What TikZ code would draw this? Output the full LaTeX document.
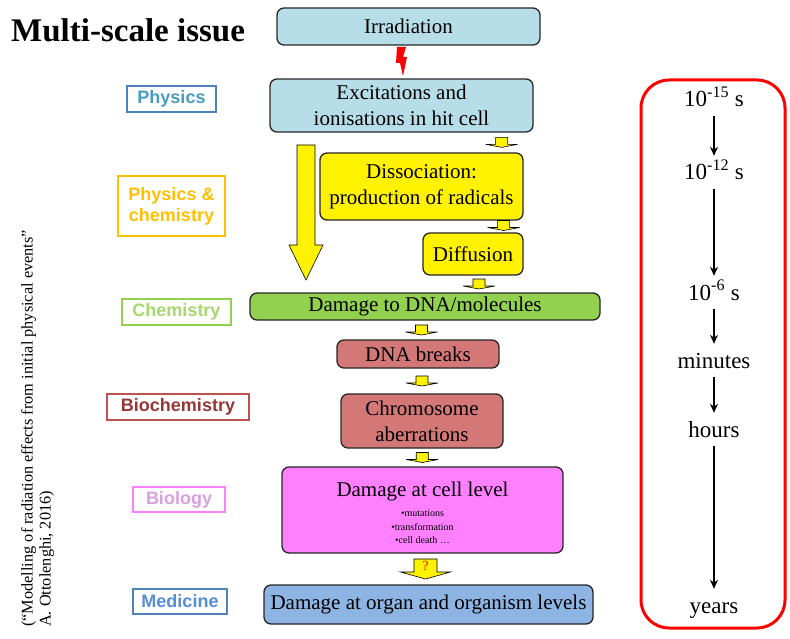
\documentclass[tikz,border=0pt]{standalone}
\usepackage{fontspec}
\setmainfont{Liberation Serif}
\newfontfamily\labelfont{Liberation Sans}
\usetikzlibrary{calc,arrows.meta}
\definecolor{irrblue}{HTML}{B7DEE8}
\definecolor{dnagreen}{HTML}{92D050}
\definecolor{brkred}{HTML}{D47777}
\definecolor{cellpink}{HTML}{FF80FF}
\definecolor{organblue}{HTML}{8EB4E3}
\definecolor{physbord}{HTML}{4F81BD}
\definecolor{phystext}{HTML}{4A9BC0}
\definecolor{pcorange}{HTML}{FFC000}
\definecolor{chemtext}{HTML}{A6D86E}
\definecolor{biochbord}{HTML}{C0504D}
\definecolor{biochtext}{HTML}{953735}
\definecolor{biotext}{HTML}{D8A0E0}
\definecolor{medtext}{HTML}{558ED5}
\begin{document}
\begin{tikzpicture}[x=1pt,y=-1pt,
  box/.style={draw=black!85, line width=1.3pt, rounded corners=7pt, align=center, inner sep=0pt,
    font=\fontsize{21}{26}\selectfont},
  lab/.style={draw, line width=2pt, align=center, inner sep=0pt, font=\labelfont\bfseries\fontsize{18}{21}\selectfont},
  tlab/.style={inner sep=0pt, text height=16pt, text depth=5pt, anchor=base, font=\fontsize{23}{26}\selectfont},
  tarrow/.style={line width=1.3pt, -{Stealth[length=9pt,width=8pt]}, shorten <=4pt, shorten >=8pt},
  smallarrow/.pic={\draw[fill=yellow, draw=black, line width=0.6pt] (-6,-5) -- (6,-5) -- (6,2) -- (16,2) -- (0,5) -- (-16,2) -- (-6,2) -- cycle;}
]
\useasboundingbox (0,0) rectangle (790,639);
% title
\node[anchor=base west, inner sep=0pt, font=\bfseries\fontsize{33}{36}\selectfont] (title) at (11,42) {Multi-scale issue};
% citation
\node[rotate=90, anchor=north west, align=left, inner sep=0pt, font=\fontsize{16.3}{18}\selectfont] (cite) at (21,627)
  {(“Modelling of radiation effects from initial physical events”\\A. Ottolenghi, 2016)};
% main boxes
\node[box, fill=irrblue, minimum width=263, minimum height=37] (irr) at (408.5,26.5) {Irradiation};
\node[box, fill=irrblue, minimum width=263, minimum height=53] (exc) at (401.5,105.5) {Excitations and\\ionisations in hit cell};
\node[box, fill=yellow, minimum width=203, minimum height=67] (dis) at (421.5,186.5) {Dissociation:\\production of radicals};
\node[box, fill=yellow, minimum width=100, minimum height=42] (dif) at (473,254) {Diffusion};
\node[box, fill=dnagreen, minimum width=350, minimum height=27] (dna) at (425,306.5) {Damage to DNA/molecules};
\node[box, fill=brkred, minimum width=162, minimum height=28] (brk) at (418,354) {DNA breaks};
\node[box, fill=brkred, minimum width=162, minimum height=54] (chr) at (422,421) {Chromosome\\aberrations};
\node[box, fill=cellpink, minimum width=281, minimum height=86] (cell) at (422.5,510) {};
\node[inner sep=0pt, font=\fontsize{21}{26}\selectfont] (celltitle) at (422.5,491) {Damage at cell level};
\node[inner sep=0pt, align=center, font=\fontsize{10}{13.5}\selectfont] (celllist) at (422.5,527) {•mutations\\•transformation\\•cell death …};
\node[box, fill=organblue, minimum width=329, minimum height=39] (org) at (428.5,604.5) {Damage at organ and organism levels};
% lightning between irradiation and excitations
\fill[red] (397,47) -- (406,47) -- (403,57) -- (407,57) -- (403,76) -- (400,63) -- (396,63) -- cycle;
% big yellow arrow from excitations to DNA damage
\draw[fill=yellow, draw=black, line width=0.6pt] (297,145) -- (315,145) -- (315,245) -- (323,245) -- (306,280) -- (289,245) -- (297,245) -- cycle;
% small block arrows
\pic at ($(dis.north east)+(-22,-10)$) {smallarrow};
\pic at ($(dis.south east)!0.5!(dif.north east)+(-20,-1)$) {smallarrow};
\pic at ($(dif.south)!0.5!(dna.north)+(30,0)$) {smallarrow};
\pic at ($(dna.south)!0.5!(brk.north)$) {smallarrow};
\pic at ($(brk.south)!0.5!(chr.north)+(2,0)$) {smallarrow};
\pic at ($(chr.south)!0.5!(cell.north)$) {smallarrow};
% question arrow
\coordinate (qa) at ($(cell.south)!0.5!(org.north)$);
\draw[fill=yellow, draw=black, line width=0.6pt] ($(qa)+(-11.5,-10)$) -- ($(qa)+(11.5,-10)$) -- ($(qa)+(11.5,3)$) -- ($(qa)+(25,3)$) -- ($(qa)+(0,10)$) -- ($(qa)+(-25,3)$) -- ($(qa)+(-11.5,3)$) -- cycle;
\node[text=red, inner sep=0pt, font=\fontsize{14}{16}\selectfont] (qm) at ($(qa)+(0,-3)$) {?};
% left labels
\node[lab, draw=physbord, text=phystext, minimum width=89, minimum height=26] (lphys) at (171.5,99) {Physics};
\node[lab, draw=pcorange, text=pcorange, minimum width=107, minimum height=60] (lpc) at (171.5,206) {Physics \&\\chemistry};
\node[lab, draw=dnagreen, text=chemtext, minimum width=109, minimum height=26] (lchem) at (176.5,312) {Chemistry};
\node[lab, draw=biochbord, text=biochtext, minimum width=142, minimum height=26] (lbioch) at (178,407) {Biochemistry};
\node[lab, draw=cellpink, text=biotext, minimum width=92, minimum height=25] (lbio) at (179,499.5) {Biology};
\node[lab, draw=physbord, text=medtext, minimum width=94, minimum height=25] (lmed) at (180,601.5) {Medicine};
% time scale
\node[draw=red, line width=3pt, rounded corners=28pt, minimum width=144, minimum height=548, inner sep=0pt] (frame) at (713,354) {};
\node[tlab] (t1) at (714,107) {10\textsuperscript{-15} s};
\node[tlab] (t2) at (714,180) {10\textsuperscript{-12} s};
\node[tlab] (t3) at (714,300) {10\textsuperscript{-6} s};
\node[tlab] (t4) at (714,368) {minutes};
\node[tlab] (t5) at (714,437) {hours};
\node[tlab] (t6) at (714,613) {years};
\draw[tarrow] (t1.south) -- (t2.north);
\draw[tarrow] (t2.south) -- (t3.north);
\draw[tarrow] (t3.south) -- (t4.north);
\draw[tarrow] (t4.south) -- (t5.north);
\draw[tarrow] (t5.south) -- (t6.north);
\end{tikzpicture}
\end{document}
